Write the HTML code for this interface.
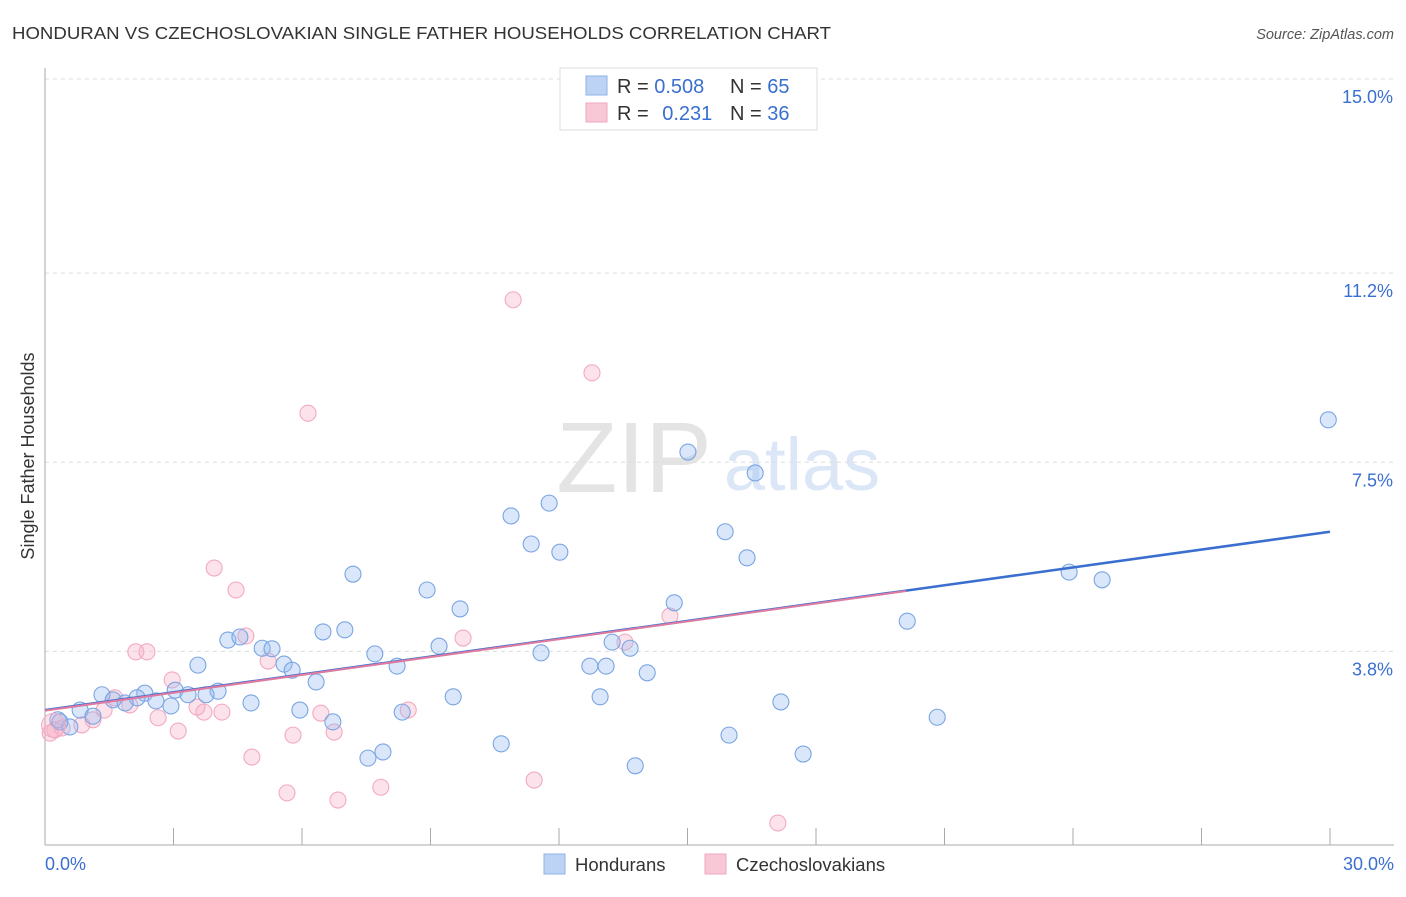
<!DOCTYPE html>
<html><head><meta charset="utf-8">
<style>
body{margin:0;background:#fff;font-family:"Liberation Sans",sans-serif;}
svg text{font-family:"Liberation Sans",sans-serif;}
</style></head>
<body>
<svg id="chart" width="1406" height="892">
<text x="12" y="39" font-size="17.5" fill="#333" textLength="819" lengthAdjust="spacingAndGlyphs">HONDURAN VS CZECHOSLOVAKIAN SINGLE FATHER HOUSEHOLDS CORRELATION CHART</text>
<text x="1394" y="39" font-size="14.5" fill="#555" font-style="italic" text-anchor="end">Source: ZipAtlas.com</text>
<text x="634" y="492" font-size="100" fill="#e4e4e4" font-family="Liberation Serif" text-anchor="middle">ZIP</text>
<text x="802" y="490" font-size="74" fill="#dbe6f6" text-anchor="middle">atlas</text>
<g id="grid"></g>
<g id="axes"></g>
<g id="marks"></g>
<text x="34" y="456" font-size="18" fill="#333" text-anchor="middle" transform="rotate(-90 34 456)">Single Father Households</text>
<g>
<rect x="560" y="68" width="257" height="62" fill="#fff" stroke="#ddd"/>
<rect x="586" y="76" width="21" height="19" fill="#bcd3f5" stroke="#8fb2e6"/>
<rect x="586" y="103" width="21" height="19" fill="#f9c8d6" stroke="#eea8be"/>
<text x="617" y="93" font-size="20" fill="#333">R = <tspan fill="#3a6fd0">0.508</tspan></text>
<text x="730" y="93" font-size="20" fill="#333">N = <tspan fill="#3a6fd0">65</tspan></text>
<text x="617" y="120" font-size="20" fill="#333">R = <tspan fill="#3a6fd0" dx="8">0.231</tspan></text>
<text x="730" y="120" font-size="20" fill="#333">N = <tspan fill="#3a6fd0">36</tspan></text>
</g>
<g>
<rect x="544" y="854" width="21" height="20" fill="#bcd3f5" stroke="#8fb2e6"/>
<text x="575" y="871" font-size="18.5" fill="#333">Hondurans</text>
<rect x="705" y="854" width="21" height="20" fill="#f9c8d6" stroke="#eea8be"/>
<text x="736" y="871" font-size="18.5" fill="#333">Czechoslovakians</text>
</g>
</svg>
<script>
const xTicks=[0,3,6,9,12,15,18,21,24,27,30];
const yTicks=[3.8,7.5,11.2,15.0];
const yTickLabels=["3.8%","7.5%","11.2%","15.0%"];
const xTickLabels=["0.0%","30.0%"];
const hondX=[29.96,15.01,16.58,11.77,10.88,15.88,11.35,12.02,16.39,23.91,24.68,7.19,8.92,9.69,14.69,20.13,6.49,7.00,4.27,4.55,5.07,5.30,9.20,13.24,13.66,7.70,11.58,3.57,5.58,5.77,8.22,12.72,13.10,14.06,6.33,1.33,2.33,3.04,4.04,3.76,3.34,2.15,1.59,1.87,2.59,2.94,4.81,9.53,12.96,17.18,5.95,0.82,1.12,8.34,20.83,6.72,0.30,0.58,10.65,15.97,7.89,7.54,17.70,13.78,0.35];
const hondY=[8.33,7.70,7.29,6.70,6.45,6.14,5.90,5.74,5.63,5.35,5.20,5.31,5.00,4.63,4.75,4.39,4.18,4.22,4.02,4.08,3.86,3.85,3.90,3.98,3.86,3.75,3.77,3.53,3.55,3.43,3.51,3.51,3.51,3.38,3.20,2.95,2.98,3.04,3.02,2.95,2.95,2.89,2.85,2.79,2.83,2.73,2.79,2.91,2.91,2.81,2.65,2.65,2.53,2.61,2.51,2.42,2.46,2.32,1.99,2.16,1.83,1.71,1.79,1.56,2.42];
const czX=[10.93,12.77,6.14,3.95,4.46,9.76,4.69,2.12,2.38,14.59,13.54,5.21,2.97,1.63,1.98,1.38,3.55,4.13,3.71,2.64,1.12,0.86,6.44,8.48,3.11,5.79,6.75,4.83,0.23,0.12,0.40,5.65,6.84,7.84,11.42,17.11];
const czY=[10.68,9.25,8.46,5.43,5.00,4.06,4.10,3.79,3.79,4.49,3.98,3.61,3.24,2.89,2.75,2.65,2.71,2.61,2.61,2.50,2.46,2.36,2.59,2.65,2.24,2.16,2.22,1.73,2.26,2.20,2.30,1.03,0.89,1.14,1.28,0.44];
const hondTrendX=[0,30], hondTrendY=[2.65,6.14];
const czTrendX=[0,20.1], czTrendY=[2.64,4.98];

const NS="http://www.w3.org/2000/svg";
const sx=v=>45+v*(1285/30);
const sy=v=>79+(15-v)*51.1;
function mk(tag,attrs,parent){const e=document.createElementNS(NS,tag);for(const k in attrs)e.setAttribute(k,attrs[k]);parent.appendChild(e);return e;}
const grid=document.getElementById('grid'),axes=document.getElementById('axes'),marks=document.getElementById('marks');
yTicks.forEach((t,i)=>{
  const l=mk('line',{x1:45,x2:1394,y1:sy(t),y2:sy(t),stroke:'#ddd','stroke-dasharray':'4 4'},grid);
  
  
  const tx=mk('text',{x:1393,y:sy(t)+24,'font-size':18,fill:'#3a6fd0','text-anchor':'end'},axes);
  tx.textContent=yTickLabels[i];
  
  
});
const xa=mk('line',{x1:45,x2:1394,y1:845,y2:845,stroke:'#aaa'},axes);


const ya=mk('line',{x1:45,x2:45,y1:68,y2:845,stroke:'#aaa'},axes);


xTicks.forEach(t=>{
  const l=mk('line',{x1:sx(t),x2:sx(t),y1:828,y2:845,stroke:'#aaa'},axes);
  
  
});
[[0,'start',45],[30,'end',1394]].forEach((d,i)=>{
  const tx=mk('text',{x:d[2],y:870,'font-size':18,fill:'#3a6fd0','text-anchor':d[1]},axes);
  tx.textContent=xTickLabels[i];
  
  
});
function pts(X,Y,fill,stroke,name){
  X.forEach((x,i)=>{
    const c=mk('circle',{cx:sx(x),cy:sy(Y[i]),r:8,fill:fill,stroke:stroke,'stroke-width':1.1},marks);
    
    
  });
}
pts(czX,czY,'rgba(246,175,198,0.35)','#f2aac0','czechoslovakian-point');
pts(hondX,hondY,'rgba(150,185,240,0.35)','#7aa5e2','honduran-point');
const big=mk('circle',{cx:sx(0.2),cy:sy(2.35),r:12,fill:'rgba(246,175,198,0.35)',stroke:'#f2aac0'},marks);


const tb=mk('line',{x1:sx(hondTrendX[0]),y1:sy(hondTrendY[0]),x2:sx(hondTrendX[1]),y2:sy(hondTrendY[1]),stroke:'#3a6fd0','stroke-width':2.5},marks);


const tp=mk('line',{x1:sx(czTrendX[0]),y1:sy(czTrendY[0]),x2:sx(czTrendX[1]),y2:sy(czTrendY[1]),stroke:'#e07aa0','stroke-width':2},marks);


</script>
</body></html>
